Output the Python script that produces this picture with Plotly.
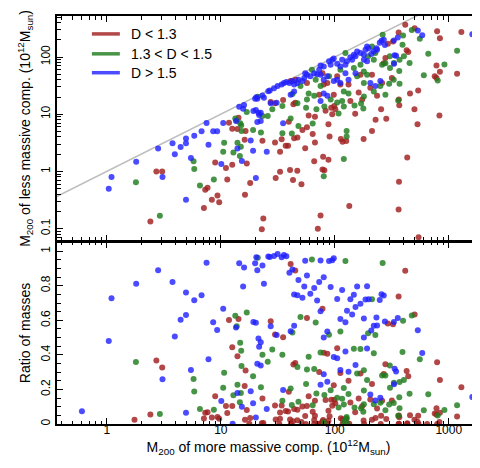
import plotly.graph_objects as go

# ---------------- data (masses in 1e12 Msun) ----------------
red_x = [2.41, 2.72, 3.06, 1.75,
         11.8, 12.6, 14.0, 14.3, 27.4, 29.9, 35.2, 16.2, 23.2, 29.9, 34.2, 37.1, 16.5,
         7.3, 7.65, 7.11, 8.35, 8.93, 11.1, 12.6, 16.9, 33.1, 11.4, 18.1, 9.35, 9.68, 16.3, 30.3, 33.1, 23.6, 22.9,
         278, 269, 260, 235, 205, 174, 162, 132, 112, 105, 98, 80, 78, 86, 73, 57, 45, 41, 168, 212,
         43.3, 45, 83, 93, 99, 101, 137, 151, 255, 283, 228, 95, 67, 59, 39.5, 52, 57, 88, 44, 47, 64, 90,
         113, 117, 126, 179, 212, 38.9, 55, 67, 66, 79, 88, 40.5, 46.9, 78, 81, 43, 51, 134, 75, 71,
         415, 363, 502, 790, 1290, 427, 441, 324, 292, 780, 836, 753, 780, 1183, 836, 539, 457, 828, 500,
         532, 432, 366, 363, 543, 365, 368, 317,
         17.8, 32.6, 41.2, 55.7, 65.9, 86.3, 117, 181, 253, 433, 646, 791]
red_y = [0.134, 1.0, 1.0, 0.044,
         7.1, 5.6, 5.5, 8.7, 16.3, 15.5, 17.7, 3.57, 3.43, 3.21, 3.66, 2.81, 5.1,
         0.48, 0.52, 0.23, 0.32, 1.44, 1.15, 1.31, 1.37, 2.21, 0.72, 0.63, 0.38, 0.29, 0.39, 0.77, 0.99, 0.15, 0.098,
         96, 78, 35, 21, 29, 18, 24, 33, 33, 46, 22, 33, 52, 35, 22, 35, 40, 38, 49, 49,
         14.9, 15.9, 11.5, 13, 13.9, 12.2, 17.1, 10.2, 12.2, 8.3, 8.0, 10, 9.0, 9.5, 7.4, 5.3, 5.9, 6.7, 3.8, 3.9, 4.5, 4.1,
         3.7, 3.3, 3.4, 3.7, 5.1, 2.8, 2.55, 3.2, 1.5, 1.8, 1.6, 1.06, 1.03, 1.08, 1.05, 0.71, 0.6, 0.25, 0.17, 0.10,
         368, 268, 318, 282, 275, 131, 122, 187, 170, 71, 55, 46, 43, 51, 213, 26, 23, 9.5, 12.2,
         6.7, 1.75, 0.66, 0.216, 0.071, 18, 14.3, 43,
         0.03, 0.02, 0.05, 0.03, 0.04, 0.02, 0.05, 0.03, 0.05, 0.04, 0.05, 0.03]

green_x = [1.8, 2.92,
           13.4, 13.8, 14.8, 15.1, 16.9, 21.1, 28.3, 34.7, 23.2, 25.8, 19.2, 22.5, 34.7,
           10.7, 14.0, 15.0, 15.2,
           5.77, 5.85, 6.56, 10.5, 12.9, 14.7, 8.69,
           212, 196, 220, 227, 260, 278, 192, 180, 168, 157, 147, 124, 112, 89, 68, 63, 66, 59, 50, 42.5,
           251, 220, 180, 180, 132, 120, 116, 105, 92, 75, 57, 47, 278, 263,
           56, 69, 81, 120, 149, 170, 178, 108, 41, 48, 64, 42, 127, 127, 120, 80,
           474, 557, 1183, 661, 393, 404, 453, 304, 330, 368, 916, 800, 604, 397, 370, 305, 300, 329, 370, 360,
           129]
green_y = [0.645, 0.168,
           8.4, 7.8, 6.95, 6.4, 10.9, 20.3, 12.2, 13.9, 9.3, 9.3, 5.3, 4.8, 4.66,
           3.18, 3.18, 2.7, 5.1,
           1.50, 1.10, 0.57, 2.21, 2.15, 1.86, 0.72,
           153, 103, 90, 117, 73, 78, 49, 56, 73, 46, 64, 117, 60, 46, 40, 60, 21, 23, 31, 22.5,
           31, 25, 35, 20.5, 23, 25, 17, 16, 18, 31, 18, 15.5, 22, 245,
           13, 12.2, 13.6, 13.6, 14.2, 15.4, 12.6, 10.3, 8.4, 6.2, 6.9, 4.6, 5.1, 4.1, 1.65, 0.82,
           298, 209, 129, 114, 164, 103, 79, 103, 79, 57, 74, 39, 48, 237, 90, 64, 34, 40, 34, 17.4,
           0.04]

blue_x = [1.04, 1.1, 1.81, 2.82, 3.08, 3.77, 3.95, 4.44, 0.605, 12.7,
          4.95, 4.95, 5.85, 6.78, 7.5, 7.8, 8.57, 9.29, 10.5, 14.5, 16.0, 15.7, 19.3, 20.3, 21.4, 21.7, 22.4,
          20.5, 20.0, 20.9, 23.2, 23.9, 26.1, 26.9, 29.3, 31.5, 34.2, 35.8, 37.6, 27.4, 30.9, 22.4, 20.9,
          18.3, 14.0, 35.2, 13.6,
          5.47, 4.95, 10.1, 15.3, 19.2, 25.3, 20.3,
          269, 257, 275, 248, 232, 235, 220, 209, 192, 186, 198, 180, 168, 157, 152, 147, 142, 137, 128, 124,
          116, 112, 105, 98, 95, 92, 89, 80, 75, 73, 70, 66, 61, 57, 55, 54, 52, 48, 47, 44, 42.5, 40,
          75, 80, 86, 98, 112, 80, 86, 75, 44, 41, 205, 227, 251, 152, 124, 105, 132, 180, 192,
          330, 535, 585, 1610, 357, 335, 345, 331]
blue_y = [0.5, 0.8, 1.47, 2.51, 0.80, 3.10, 2.0, 2.68, 0.045, 0.025,
          3.77, 3.12, 4.19, 5.05, 7.0, 2.92, 5.05, 5.05, 7.0, 13.5, 14.5, 12.5, 11.4, 11.9, 10.6, 9.7, 10.6,
          19.8, 18.6, 18.6, 21.3, 19.4, 25.3, 26.0, 28.5, 31.0, 33.0, 35.0, 36.5, 15.5, 15.9, 7.6, 7.3,
          3.48, 2.52, 6.95, 7.6,
          1.71, 0.32, 1.35, 1.52, 2.30, 2.21, 0.77,
          200, 193, 163, 178, 143, 134, 125, 113, 153, 134, 143, 110, 117, 125, 103, 110, 90, 99, 84, 73,
          90, 68, 76, 94, 90, 73, 84, 68, 71, 60, 50, 52, 46, 49, 52, 43, 38, 40, 35, 33, 38, 35,
          49, 40, 46, 38, 35, 23, 21, 17, 25, 22, 35, 31, 38, 52, 52, 40, 40, 90, 84,
          195, 290, 240, 251, 219, 107, 105, 76]

identity = [0.1, 10000]

x_major = [1, 10, 100, 1000]
x_labels = ["1", "10", "100", "1000"]
y_major = [0.1, 1, 10, 100]
y_labels = ["0.1", "1", "10", "100"]
r_major = [0, 0.2, 0.4, 0.6, 0.8, 1.0]
r_labels = ["0", "0.2", "0.4", "0.6", "0.8", "1"]

groups = [
    ("D &lt; 1.3", red_x, red_y, "rgba(160,30,30,0.82)"),
    ("1.3 &lt; D &lt; 1.5", green_x, green_y, "rgba(30,125,30,0.82)"),
    ("D &gt; 1.5", blue_x, blue_y, "rgba(30,30,255,0.8)"),
]

def log_minor(lo, hi):
    vals = []
    for e in range(lo, hi + 1):
        for k in range(2, 10):
            vals.append(k * 10 ** e)
    return vals

fig = go.Figure()
fig.add_trace(go.Scatter(x=identity, y=identity, mode="lines",
                         line=dict(color="#BDBDBD", width=1.5),
                         xaxis="x", yaxis="y", showlegend=False, hoverinfo="skip"))

for name, xs, ys, col in groups:
    ratio = [b / a for a, b in zip(xs, ys)]
    fig.add_trace(go.Scatter(x=xs, y=ys, mode="markers", marker=dict(size=6, color=col),
                             xaxis="x", yaxis="y", showlegend=False, name=name))
    fig.add_trace(go.Scatter(x=xs, y=ratio, mode="markers", marker=dict(size=6, color=col),
                             xaxis="x2", yaxis="y2", showlegend=False, name=name))

# legend drawn as key lines + labels in the top-left of the upper panel
legend_rows_y = [0.9561, 0.9073, 0.8610]
for (name, xs, ys, col), ly in zip(groups, legend_rows_y):
    fig.add_shape(type="line", xref="paper", yref="paper", x0=0.0825, x1=0.1486, y0=ly, y1=ly,
                  line=dict(color=col, width=3.5))
    fig.add_annotation(xref="paper", yref="paper", x=0.170, y=ly, text=name, showarrow=False,
                       xanchor="left", yanchor="middle",
                       font=dict(family="Liberation Sans, Arial", size=14, color="black"))

base = dict(showline=True, linecolor="black", linewidth=2, mirror="allticks",
            ticks="inside", ticklen=6, tickwidth=1.3, tickcolor="black",
            showgrid=False, zeroline=False,
            tickfont=dict(family="Liberation Sans, Arial", size=12, color="black"))

minor_style = dict(ticks="inside", ticklen=3.5, tickwidth=1, tickcolor="black")
xrange = [-0.437, 3.274]
fig.update_layout(
    width=480, height=468,
    margin=dict(l=49, r=7, t=6, b=52),
    paper_bgcolor="white", plot_bgcolor="white",
    font=dict(family="Liberation Sans, Arial", size=13, color="black"),
    showlegend=False,
    xaxis=dict(base, type="log", range=xrange, anchor="y", matches="x2",
               tickvals=x_major, ticktext=x_labels, showticklabels=False,
               minor=dict(minor_style, tickmode="array", tickvals=log_minor(-1, 3))),
    yaxis=dict(base, type="log", range=[-1.214, 2.717], anchor="x", domain=[0.4488, 1],
               tickvals=y_major, ticktext=y_labels, tickangle=-90,
               minor=dict(minor_style, tickmode="array", tickvals=log_minor(-2, 2)),
               title=dict(text="M<sub>200</sub> of less massive comp. (10<sup>12</sup>M<sub>sun</sub>)",
                          font=dict(size=14), standoff=5)),
    xaxis2=dict(base, type="log", range=xrange, anchor="y2",
                tickvals=x_major, ticktext=x_labels, ticklabelstandoff=-6,
                minor=dict(minor_style, tickmode="array", tickvals=log_minor(-1, 3)),
                title=dict(text="M<sub>200</sub> of more massive comp. (10<sup>12</sup>M<sub>sun</sub>)",
                           font=dict(size=14), standoff=1)),
    yaxis2=dict(base, range=[0, 1.054], anchor="x2", domain=[0, 0.4463],
                tickvals=r_major, ticktext=r_labels, tickangle=-90,
                minor=dict(minor_style, tickmode="array",
                           tickvals=[0.05, 0.1, 0.15, 0.25, 0.3, 0.35, 0.45, 0.5, 0.55,
                                     0.65, 0.7, 0.75, 0.85, 0.9, 0.95, 1.05]),
                title=dict(text="Ratio of masses", font=dict(size=14), standoff=5)),
)

fig.write_html("out.html")
